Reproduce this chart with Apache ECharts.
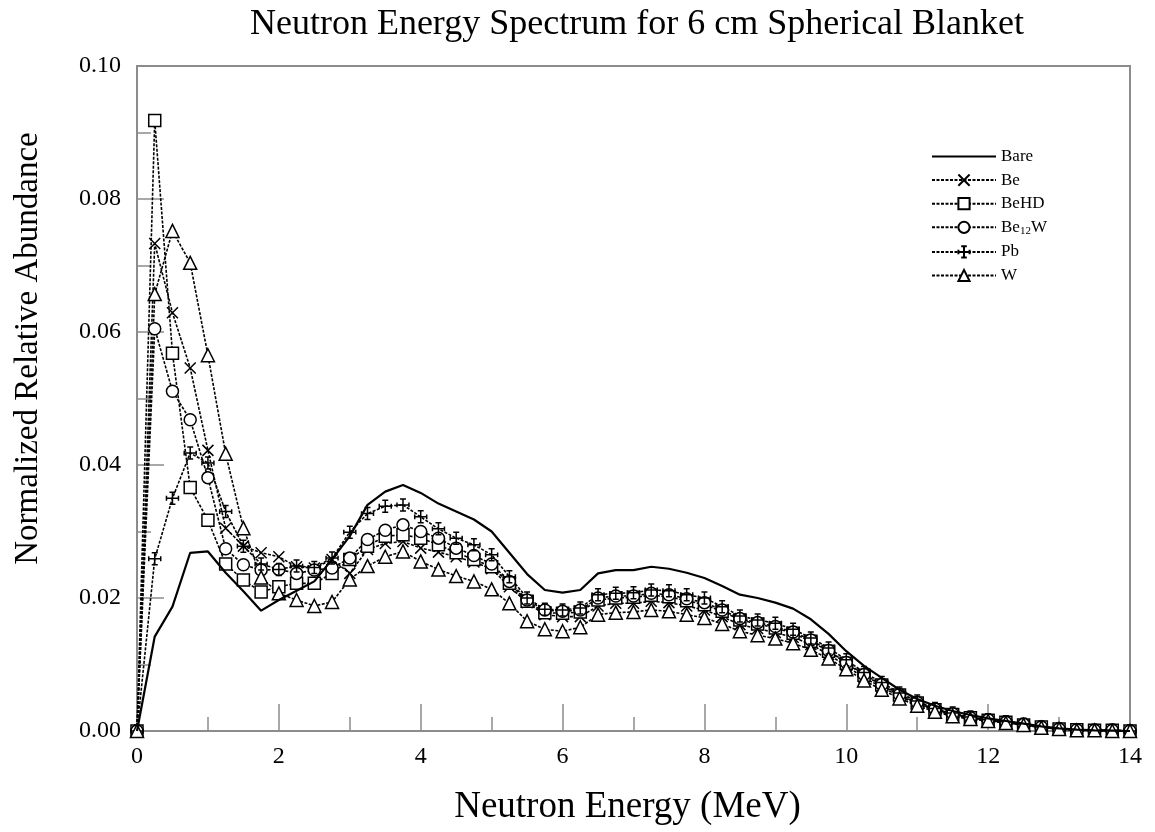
<!DOCTYPE html>
<html>
<head>
<meta charset="utf-8">
<script src="https://cdn.jsdelivr.net/npm/echarts@6/dist/echarts.min.js"></script>
<style>html,body{margin:0;padding:0;background:#fff;}#c{width:1155px;height:832px;}</style>
</head>
<body>
<div id="c"></div>
<script>
const energies = [0,0.25,0.5,0.75,1,1.25,1.5,1.75,2,2.25,2.5,2.75,3,3.25,3.5,3.75,4,4.25,4.5,4.75,5,5.25,5.5,5.75,6,6.25,6.5,6.75,7,7.25,7.5,7.75,8,8.25,8.5,8.75,9,9.25,9.5,9.75,10,10.25,10.5,10.75,11,11.25,11.5,11.75,12,12.25,12.5,12.75,13,13.25,13.5,13.75,14];
const seriesNames = ['Bare','Be','BeHD','Be12W','Pb','W'];
const bare = [0,0.0142,0.0187,0.0268,0.0270,0.0238,0.0210,0.0181,0.0197,0.0211,0.0225,0.0258,0.0293,0.0340,0.0360,0.0370,0.0358,0.0342,0.0330,0.0318,0.0300,0.0268,0.0236,0.0212,0.0208,0.0212,0.0237,0.0242,0.0242,0.0247,0.0244,0.0238,0.0230,0.0218,0.0205,0.0200,0.0193,0.0184,0.0168,0.0146,0.0120,0.0098,0.0080,0.0062,0.0048,0.0038,0.0030,0.0024,0.0019,0.0015,0.0011,0.0007,0.0004,0.0002,0.0001,0.00005,0];
const be = [0,0.0733,0.0629,0.0546,0.0422,0.0305,0.0278,0.0268,0.0262,0.0247,0.0245,0.0258,0.0237,0.0273,0.0282,0.0285,0.0275,0.0269,0.0262,0.0254,0.0244,0.0217,0.0193,0.0175,0.0172,0.0172,0.0188,0.0192,0.0192,0.0195,0.0193,0.0188,0.0182,0.0172,0.0160,0.0154,0.0148,0.0141,0.0130,0.0115,0.0098,0.0080,0.0066,0.0052,0.0041,0.0031,0.0024,0.0019,0.0016,0.0013,0.0009,0.0006,0.0003,0.0002,0.0001,0.0001,0];
const behd = [0,0.0918,0.0568,0.0366,0.0317,0.0251,0.0227,0.0209,0.0217,0.0222,0.0222,0.0237,0.0258,0.0278,0.0293,0.0295,0.0290,0.0280,0.0268,0.0258,0.0247,0.0222,0.0195,0.0178,0.0177,0.0179,0.0197,0.0200,0.0201,0.0204,0.0202,0.0196,0.0190,0.0180,0.0167,0.0161,0.0155,0.0147,0.0135,0.0120,0.0102,0.0084,0.0069,0.0054,0.0042,0.0032,0.0025,0.0020,0.0016,0.0013,0.0009,0.0006,0.0003,0.0002,0.0001,0.0001,0];
const be12w = [0,0.0605,0.0511,0.0468,0.0381,0.0274,0.0250,0.0242,0.0243,0.0237,0.0242,0.0245,0.0260,0.0288,0.0302,0.0310,0.0300,0.0290,0.0275,0.0264,0.0251,0.0225,0.0197,0.0182,0.0180,0.0182,0.0200,0.0203,0.0203,0.0207,0.0205,0.0199,0.0193,0.0182,0.0169,0.0163,0.0157,0.0149,0.0137,0.0121,0.0103,0.0085,0.0070,0.0055,0.0043,0.0033,0.0026,0.0020,0.0017,0.0013,0.0010,0.0006,0.0003,0.0002,0.0001,0.0001,0];
const pb = [0,0.0259,0.0350,0.0418,0.0403,0.0330,0.0278,0.0251,0.0243,0.0248,0.0246,0.0260,0.0299,0.0327,0.0338,0.0340,0.0322,0.0304,0.0290,0.0280,0.0265,0.0232,0.0200,0.0183,0.0182,0.0185,0.0205,0.0207,0.0208,0.0212,0.0211,0.0205,0.0200,0.0187,0.0173,0.0167,0.0162,0.0153,0.0140,0.0125,0.0107,0.0088,0.0073,0.0057,0.0045,0.0034,0.0027,0.0021,0.0017,0.0014,0.0010,0.0006,0.0003,0.0002,0.0001,0.0001,0];
const w = [0,0.0657,0.0752,0.0704,0.0565,0.0417,0.0305,0.0231,0.0207,0.0197,0.0188,0.0194,0.0228,0.0248,0.0262,0.0270,0.0255,0.0243,0.0233,0.0225,0.0213,0.0192,0.0165,0.0153,0.0150,0.0156,0.0175,0.0178,0.0179,0.0182,0.0180,0.0175,0.0170,0.0161,0.0150,0.0144,0.0139,0.0132,0.0122,0.0109,0.0093,0.0076,0.0062,0.0049,0.0038,0.0029,0.0022,0.0018,0.0015,0.0012,0.0009,0.0005,0.0003,0.0001,0.0001,0,0];

const FONT = '"Liberation Serif", "Times New Roman", serif';
const pair = arr => energies.map((e, i) => [e, arr[i]]);
const symX = 'path://M0,0 L10,10 M10,0 L0,10';
const symPb = 'path://M5,0 L5,10 M0,5 L10,5 M2.5,0 L7.5,0 M2.5,10 L7.5,10 M0,3 L0,7 M10,3 L10,7';
const markStyle = {color: '#fff', borderColor: '#000', borderWidth: 1.5};
const dash = {color: '#000', width: 1.6, type: [3, 1.5]};

function markerSeries(name, data, symbol, size) {
  return {
    name: name, type: 'line', data: pair(data), symbol: symbol, symbolSize: size,
    showAllSymbol: true, lineStyle: dash, itemStyle: markStyle, z: 3
  };
}

const chart = echarts.init(document.getElementById('c'));
chart.setOption({
  backgroundColor: '#fff',
  animation: false,
  title: {
    text: 'Neutron Energy Spectrum for 6 cm Spherical Blanket',
    left: 632, textAlign: 'center', top: 2,
    textStyle: {fontFamily: FONT, fontSize: 36, fontWeight: 'normal', color: '#000'}
  },
  grid: {left: 137, right: 25, top: 66, bottom: 101, show: true, borderColor: '#8c8c8c', borderWidth: 2},
  legend: {
    orient: 'vertical', left: 926, top: 143, itemWidth: 64, itemHeight: 14, itemGap: 6.6,
    data: seriesNames,
    textStyle: {fontFamily: FONT, fontSize: 17, color: '#000',
      rich: {sub: {fontFamily: FONT, fontSize: 11, verticalAlign: 'bottom', padding: [8, 0, 0, 0], color: '#000'},
             n: {fontFamily: FONT, fontSize: 17, color: '#000'}}},
    formatter: name => name === 'Be12W' ? '{n|Be}{sub|12}{n|W}' : name
  },
  xAxis: {
    type: 'value', min: 0, max: 14, interval: 2,
    name: 'Neutron Energy (MeV)', nameLocation: 'middle', nameGap: 58,
    nameTextStyle: {fontFamily: FONT, fontSize: 37, color: '#000', padding: [0, 12, 0, 0]},
    axisLine: {show: true, lineStyle: {color: '#8c8c8c', width: 2}},
    axisTick: {show: true, inside: true, length: 27, lineStyle: {color: '#8c8c8c', width: 1.5}},
    minorTick: {show: true, splitNumber: 2, length: 14, lineStyle: {color: '#8c8c8c', width: 1.5}},
    splitLine: {show: false},
    axisLabel: {fontFamily: FONT, fontSize: 24, color: '#000', margin: 14}
  },
  yAxis: {
    type: 'value', min: 0, max: 0.1, interval: 0.02,
    name: 'Normalized Relative Abundance', nameLocation: 'middle', nameGap: 92,
    nameTextStyle: {fontFamily: FONT, fontSize: 33, color: '#000', padding: [0, 0, 0, 100]},
    axisLine: {show: true, lineStyle: {color: '#8c8c8c', width: 2}},
    axisTick: {show: true, inside: true, length: 27, lineStyle: {color: '#8c8c8c', width: 1.5}},
    minorTick: {show: true, splitNumber: 2, length: 14, lineStyle: {color: '#8c8c8c', width: 1.5}},
    splitLine: {show: false},
    axisLabel: {fontFamily: FONT, fontSize: 24, color: '#000', margin: 16, formatter: v => v.toFixed(2)}
  },
  series: [
    {name: 'Bare', type: 'line', data: pair(bare), symbol: 'none',
     lineStyle: {color: '#000', width: 2.2},
     itemStyle: {color: 'rgba(0,0,0,0)', borderWidth: 0, borderColor: 'rgba(0,0,0,0)'}, z: 4},
    markerSeries('Be', be, symX, 11),
    markerSeries('BeHD', behd, 'rect', 12),
    markerSeries('Be12W', be12w, 'circle', 12),
    markerSeries('Pb', pb, symPb, 12),
    markerSeries('W', w, 'triangle', 13)
  ]
});
</script>
</body>
</html>
